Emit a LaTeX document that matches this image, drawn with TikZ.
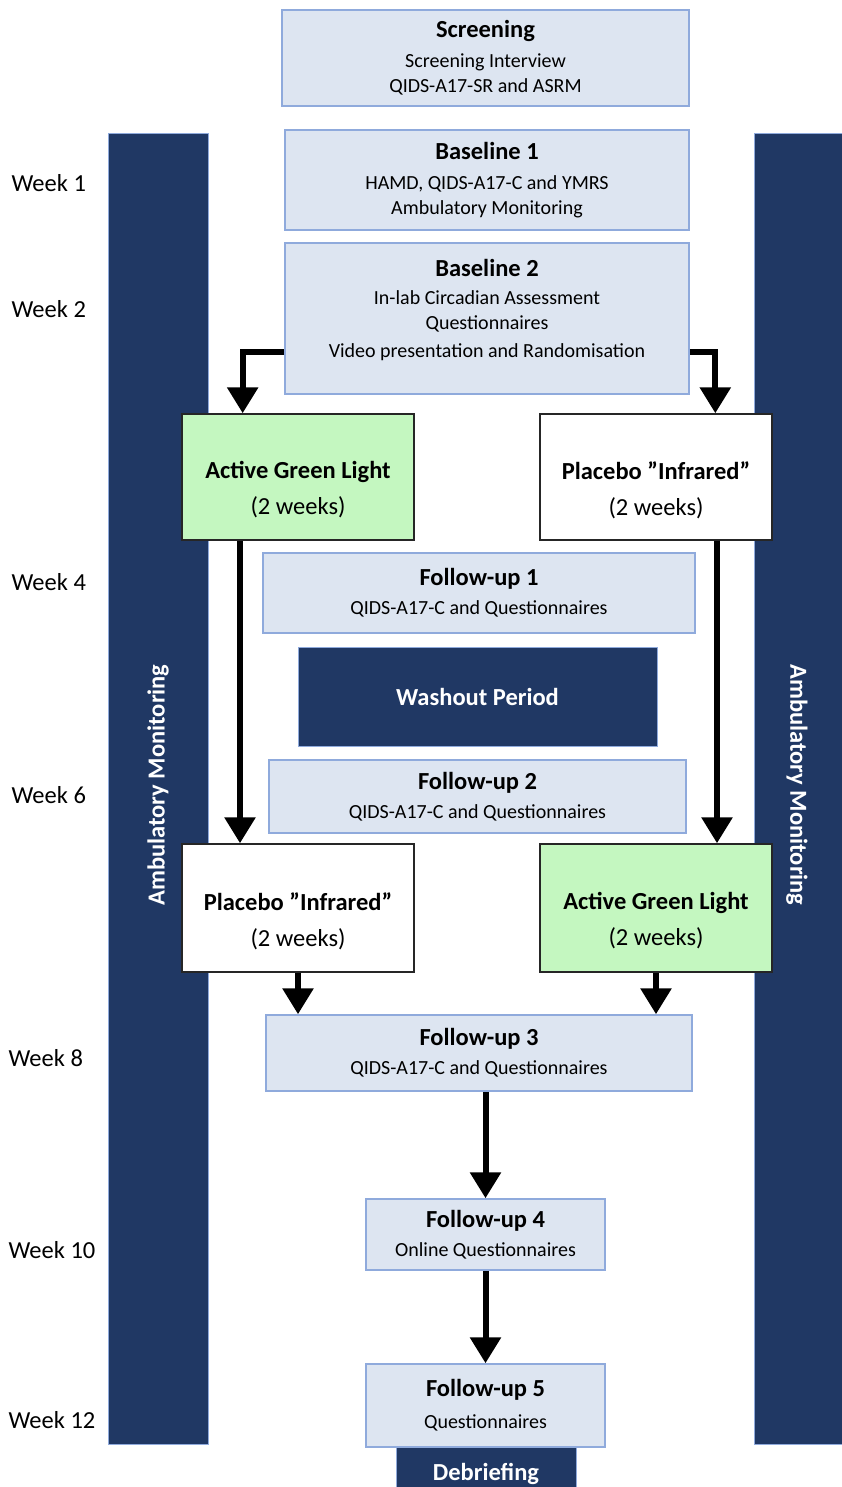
\documentclass[tikz,border=0pt]{standalone}
\usepackage{fontspec}
\setmainfont{Carlito}
\usetikzlibrary{arrows.meta, calc}

\definecolor{boxfill}{HTML}{DDE5F1}
\definecolor{boxline}{HTML}{8FAADC}
\definecolor{navy}{HTML}{203864}
\definecolor{lightgreen}{HTML}{C4F7C0}

\newcommand{\ttl}{\fontsize{24.5}{30}\selectfont\bfseries}
\newcommand{\sbt}{\fontsize{20}{25}\selectfont}
\newcommand{\arm}{\fontsize{24.5}{36}\selectfont}

\begin{document}
\begin{tikzpicture}[x=1pt, y=-1pt,
  visit/.style={draw=boxline, fill=boxfill, line width=1.5pt, align=center, inner sep=0pt, font=\sbt},
  armbox/.style={draw=black!85, line width=1.5pt, inner sep=0pt},
  armtxt/.style={align=center, inner sep=0pt, font=\arm},
  dark/.style={fill=navy, draw=boxline, line width=0.8pt, text=white, inner sep=0pt, font=\ttl},
  week/.style={anchor=west, font=\fontsize{24.5}{30}\selectfont},
  flow/.style={line width=6pt, -{Triangle[width=30pt,length=26pt]}}]
\useasboundingbox (0,0) rectangle (841,1487);

% side bars
\node[dark, minimum width=100, minimum height=1311] (barL) at (158,788.5) {};
\node[dark, minimum width=91, minimum height=1311] (barR) at (799.5,788.5) {};
\node[rotate=90, text=white, font=\ttl] (amL) at (158,785) {Ambulatory Monitoring};
\node[rotate=-90, text=white, font=\ttl] (amR) at (797,785) {Ambulatory Monitoring};

% weeks
\node[week] (w1) at (8,183) {Week 1};
\node[week] (w2) at (8,309) {Week 2};
\node[week] (w4) at (8,582) {Week 4};
\node[week] (w6) at (8,795) {Week 6};
\node[week] (w8) at (5,1058) {Week 8};
\node[week] (w10) at (5,1250) {Week 10};
\node[week] (w12) at (5,1420) {Week 12};

% visits
\node[visit, minimum width=407, minimum height=96] (scr) at (485.5,58)
  {{\ttl Screening}\\[5pt] Screening Interview\\ QIDS-A17-SR and ASRM};
\node[visit, minimum width=404, minimum height=100] (bl1) at (487,180)
  {{\ttl Baseline 1}\\[5pt] HAMD, QIDS-A17-C and YMRS\\ Ambulatory Monitoring};
\node[visit, minimum width=404, minimum height=151] (bl2) at (487,318.5) {};
\node[visit, draw=none, fill=none] (bl2txt) at ($(bl2.center)+(0,-8)$)
  {{\ttl Baseline 2}\\[3pt] In-lab Circadian Assessment\\ Questionnaires\\[3pt] Video presentation and Randomisation};

% first period
\node[armbox, fill=lightgreen, minimum width=232, minimum height=126] (ag1) at (298,477) {};
\node[armtxt] (ag1txt) at ($(ag1.center)+(0,13)$) {\textbf{Active Green Light}\\ (2 weeks)};
\node[armbox, fill=white, minimum width=232, minimum height=126] (pi1) at (656,477) {};
\node[armtxt] (pi1txt) at ($(pi1.center)+(0,13)$) {\textbf{Placebo \textquotedblright Infrared\textquotedblright}\\ (2 weeks)};

\node[visit, minimum width=432, minimum height=80] (fu1) at (479,593)
  {{\ttl Follow-up 1}\\[4pt] QIDS-A17-C and Questionnaires};
\node[dark, minimum width=359, minimum height=99] (wash) at (477.5,696.5) {Washout Period};
\node[visit, minimum width=417, minimum height=73] (fu2) at (477.5,796.5)
  {{\ttl Follow-up 2}\\[4pt] QIDS-A17-C and Questionnaires};

% second period
\node[armbox, fill=white, minimum width=232, minimum height=128] (pi2) at (298,908) {};
\node[armtxt] (pi2txt) at ($(pi2.center)+(0,13)$) {\textbf{Placebo \textquotedblright Infrared\textquotedblright}\\ (2 weeks)};
\node[armbox, fill=lightgreen, minimum width=232, minimum height=128] (ag2) at (656,908) {};
\node[armtxt] (ag2txt) at ($(ag2.center)+(0,13)$) {\textbf{Active Green Light}\\ (2 weeks)};

\node[visit, minimum width=426, minimum height=76] (fu3) at (479,1053)
  {{\ttl Follow-up 3}\\[4pt] QIDS-A17-C and Questionnaires};
\node[visit, minimum width=239, minimum height=71] (fu4) at (485.5,1234.5)
  {{\ttl Follow-up 4}\\[4pt] Online Questionnaires};
\node[dark, minimum width=180, minimum height=53] (deb) at (486,1473.5) {Debriefing};
\node[visit, minimum width=239, minimum height=83] (fu5) at (485.5,1405.5)
  {{\ttl Follow-up 5}\\[7pt] Questionnaires};

% arrows
\coordinate (splitL) at ($(ag1.north west)!0.263!(ag1.north east)$);
\coordinate (splitR) at ($(pi1.north west)!0.754!(pi1.north east)$);
\draw[flow] (bl2.west |- 0,352) -| (splitL);
\draw[flow] (bl2.east |- 0,352) -| (splitR);
\draw[flow] (ag1.south -| 240,0) -- (pi2.north -| 240,0);
\draw[flow] (pi1.south -| 717,0) -- (ag2.north -| 717,0);
\draw[flow] (pi2.south) -- (fu3.north -| pi2.south);
\draw[flow] (ag2.south) -- (fu3.north -| ag2.south);
\draw[flow] (fu3.south -| fu4.north) -- (fu4.north);
\draw[flow] (fu4.south) -- (fu5.north);

\end{tikzpicture}
\end{document}
